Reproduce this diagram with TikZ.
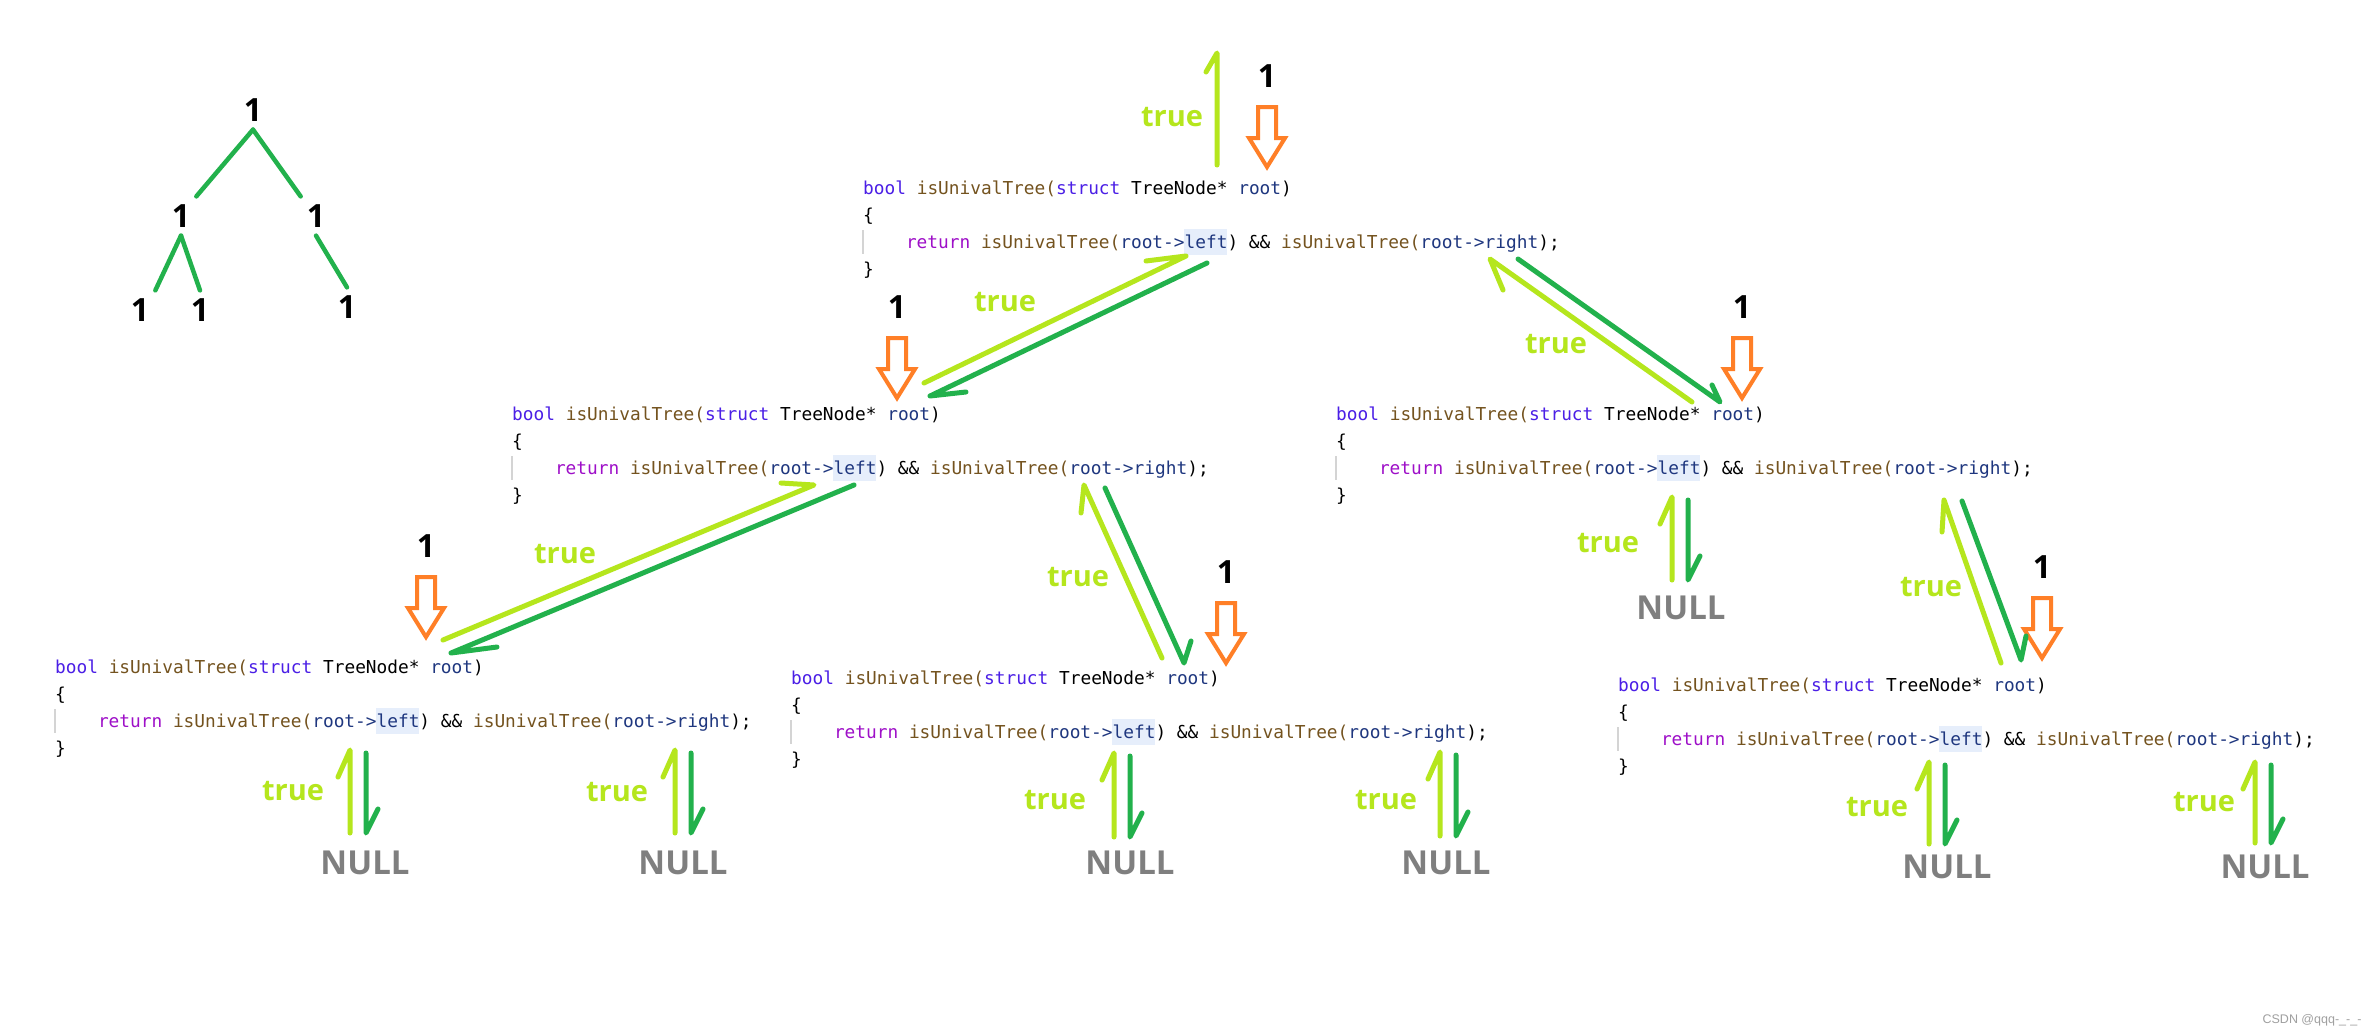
\documentclass[tikz,border=0pt]{standalone}
\usepackage{fontspec}
\setmainfont{Open Sans}
\newfontfamily\codefont{DejaVu Sans Mono}
\newfontfamily\markfont{Liberation Sans}
\usetikzlibrary{calc}

\definecolor{lime}{HTML}{B5E61D}
\definecolor{paintgreen}{HTML}{22B14C}
\definecolor{paintorange}{HTML}{FF7F27}
\definecolor{nullgray}{HTML}{7F7F7F}
\definecolor{kwblue}{HTML}{4B1FE6}
\definecolor{fnbrown}{HTML}{74531F}
\definecolor{varnavy}{HTML}{1F377F}
\definecolor{retpurple}{HTML}{9E0FC8}
\definecolor{hlblue}{HTML}{E6EEFB}
\definecolor{guidegray}{HTML}{D4D4D4}
\definecolor{markgray}{HTML}{A0A0A0}

\newcommand{\cw}{10.7}
\newcommand{\ckw}[1]{\textcolor{kwblue}{#1}}
\newcommand{\cfn}[1]{\textcolor{fnbrown}{#1}}
\newcommand{\cvar}[1]{\textcolor{varnavy}{#1}}
\newcommand{\cret}[1]{\textcolor{retpurple}{#1}}
% one copy of the function: name, left x, centre of first line
\newcommand{\codeblock}[3]{%
  \fill[hlblue] (#2+30*\cw,#3+41) rectangle (#2+34*\cw,#3+67);
  \draw[guidegray, line width=1.2bp] (#2,#3+42) -- (#2,#3+66);
  \node[codeline] (#1-head) at (#2,#3+6) {\ckw{bool} \cfn{isUnivalTree(}\ckw{struct} TreeNode* \cvar{root})};
  \node[codeline] (#1-open) at (#2,#3+33) {\{};
  \node[codeline] (#1-body) at (#2+4*\cw,#3+60) {\cret{return} \cfn{isUnivalTree(}\cvar{root->left}) \&\& \cfn{isUnivalTree(}\cvar{root->right});};
  \node[codeline] (#1-close) at (#2,#3+87) {\}};
}

\begin{document}
\begin{tikzpicture}[x=1bp, y=-1bp,
  codeline/.style={anchor=base west, inner sep=0pt, font=\codefont\fontsize{17.8bp}{20bp}\selectfont},
  treenum/.style={inner xsep=6bp, inner ysep=8bp, font=\bfseries\fontsize{32bp}{34bp}\selectfont},
  treeedge/.style={paintgreen, line width=4.5bp, line cap=round},
  onelabel/.style={inner sep=0pt, font=\bfseries\fontsize{32bp}{34bp}\selectfont},
  truelabel/.style={inner sep=0pt, text=lime, font=\bfseries\fontsize{29bp}{31bp}\selectfont},
  nulllabel/.style={inner sep=0pt, text=nullgray, font=\bfseries\fontsize{33bp}{35bp}\selectfont},
  retline/.style={lime, line width=5bp, line cap=round, line join=round},
  callline/.style={paintgreen, line width=5bp, line cap=round, line join=round},
  callarrow/.pic={\draw[paintorange, line width=4bp, line join=miter]
    (-9,0) -- (9,0) -- (9,31) -- (18,31) -- (0,60) -- (-18,31) -- (-9,31) -- cycle;}]
\path[use as bounding box, fill=white] (0,0) rectangle (2377,1035);

% the small tree
\node[treenum] (t0) at (253,110) {1};
\node[treenum] (t1) at (181,216) {1};
\node[treenum] (t2) at (316,216) {1};
\node[treenum] (t3) at (140,310) {1};
\node[treenum] (t4) at (200,310) {1};
\node[treenum] (t5) at (347,307) {1};
\draw[treeedge] (t0.south) -- (t1.north east);
\draw[treeedge] (t0.south) -- (t2.north west);
\draw[treeedge] (t1.south) -- (t3.north east);
\draw[treeedge] (t1.south) -- (t4.north);
\draw[treeedge] (t2.south) -- (t5.north);

% the recursive calls
\codeblock{A}{863}{188}
\codeblock{B}{512}{414}
\codeblock{C}{1336}{414}
\codeblock{D}{55}{667}
\codeblock{E}{791}{678}
\codeblock{F}{1618}{685}

\foreach \nm/\x/\y in {A/1267/107, B/897/338, C/1742/338, D/426/577, E/1226/603, F/2042/598}{
  \pic at (\x,\y) {callarrow};
  \node[onelabel] (\nm-val) at (\x,\y-31) {1};
}

% into a child and back
\coordinate (AB-c1) at (1207,263); \coordinate (AB-c2) at (930,396);
\coordinate (AB-r1) at (924,383);  \coordinate (AB-r2) at (1186,256);
\coordinate (AC-c1) at (1518,259); \coordinate (AC-c2) at (1720,402);
\coordinate (AC-r1) at (1692,402); \coordinate (AC-r2) at (1490,259);
\coordinate (BD-c1) at (854,485);  \coordinate (BD-c2) at (451,653);
\coordinate (BD-r1) at (443,640);  \coordinate (BD-r2) at (814,485);
\coordinate (BE-c1) at (1105,488); \coordinate (BE-c2) at (1184,663);
\coordinate (BE-r1) at (1162,658); \coordinate (BE-r2) at (1084,485);
\coordinate (CF-c1) at (1962,501); \coordinate (CF-c2) at (2021,660);
\coordinate (CF-r1) at (2001,663); \coordinate (CF-r2) at (1944,500);
\coordinate (top-r1) at (1217,165); \coordinate (top-r2) at (1217,53);

\draw[callline] (AB-c1) -- (AB-c2) -- ++(36,-4);
\draw[retline] (AB-r1) -- (AB-r2) -- ++(-40,5);
\draw[callline] (AC-c1) -- (AC-c2) -- ++(-8,-17);
\draw[retline] (AC-r1) -- (AC-r2) -- ++(13,31);
\draw[callline] (BD-c1) -- (BD-c2) -- ++(46,-6);
\draw[retline] (BD-r1) -- (BD-r2) -- ++(-33,-2);
\draw[callline] (BE-c1) -- (BE-c2) -- ++(7,-22);
\draw[retline] (BE-r1) -- (BE-r2) -- ++(-3,28);
\draw[callline] (CF-c1) -- (CF-c2) -- ++(5,-24);
\draw[retline] (CF-r1) -- (CF-r2) -- ++(-2,32);
\draw[retline] (top-r1) -- (top-r2) -- ++(-11,19);

\node[truelabel] (top-true) at (1172,117) {true};
\node[truelabel] (AB-true) at (1005,302) {true};
\node[truelabel] (AC-true) at (1556,344) {true};
\node[truelabel] (BD-true) at (565,554) {true};
\node[truelabel] (BE-true) at (1078,577) {true};
\node[truelabel] (CF-true) at (1931,587) {true};

% empty children
\foreach \nm/\xl/\yt/\yb/\tx/\ty/\nx/\ny in {Cl/1672/497/580/1608/543/1681/608,
    Dl/350/750/833/293/791/365/863, Dr/675/750/833/617/792/683/863,
    El/1114/753/837/1055/800/1130/863, Er/1440/752/836/1386/800/1446/863,
    Fl/1929/762/844/1877/807/1947/867, Fr/2255/762/843/2204/802/2265/867}{
  \node[truelabel] (\nm-true) at (\tx,\ty) {true};
  \node[nulllabel] (\nm-null) at (\nx,\ny) {NULL};
  \coordinate (\nm-up) at (\xl,\yt);
  \coordinate (\nm-lo) at (\xl,\yb);
  \coordinate (\nm-dup) at (\xl+16,\yt+3);
  \coordinate (\nm-dlo) at (\xl+16,\yb);
  \draw[retline] (\nm-lo) -- (\nm-up) -- ++(-12,27);
  \draw[callline] (\nm-dup) -- (\nm-dlo) -- ++(12,-24);
}

\node[text=markgray, font=\markfont\fontsize{12.5bp}{14bp}\selectfont] (mark) at (2312,1020) {CSDN @qqq-\_-\_-};
\end{tikzpicture}
\end{document}
